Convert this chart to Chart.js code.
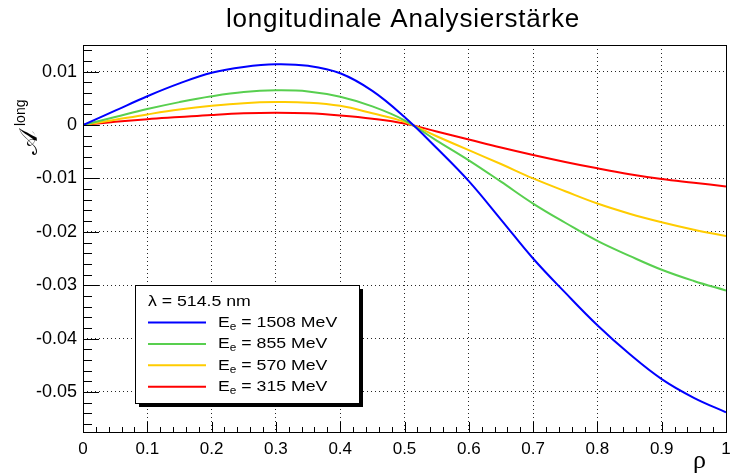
<!DOCTYPE html>
<html>
<head>
<meta charset="utf-8">
<script src="https://cdn.jsdelivr.net/npm/chart.js@4.4.0/dist/chart.umd.min.js"></script>
<style>
  html, body { margin: 0; padding: 0; background: #fff; }
  canvas { display: block; }
</style>
</head>
<body>
<canvas id="chart" width="732" height="476"></canvas>
<script>
/**
 * Longitudinale Analysierstärke A^long(rho) für verschiedene Strahlenergien
 */

const FONT       = "'Liberation Sans', Arial, sans-serif";
const SERIF      = "'Liberation Serif', 'DejaVu Serif', serif";
const GRID_COLOR = 'rgba(0, 0, 0, 0.85)';

const TITLE      = 'longitudinale Analysierstärke';
const WAVELENGTH = '514.5';

const RHO = [0, 0.05, 0.1, 0.15, 0.2, 0.25, 0.3, 0.35, 0.4, 0.45, 0.5,
             0.55, 0.6, 0.65, 0.7, 0.75, 0.8, 0.85, 0.9, 0.95, 1];

const A_1508 = [0, 0.0027, 0.0054, 0.0078, 0.0098, 0.0109, 0.0114, 0.0111, 0.0097, 0.0064, 0.0015,
                -0.0043, -0.0105, -0.0177, -0.0250, -0.0314, -0.0375, -0.0429, -0.0476, -0.0511, -0.0538];
const A_855  = [0, 0.0015, 0.0030, 0.0043, 0.0054, 0.0062, 0.0065, 0.0063, 0.0053, 0.0035, 0.0009,
                -0.0029, -0.0066, -0.0106, -0.0147, -0.0183, -0.0217, -0.0245, -0.0271, -0.0292, -0.0310];
const A_570  = [0, 0.0010, 0.0020, 0.0029, 0.0036, 0.0041, 0.0043, 0.0042, 0.0036, 0.0022, 0.0006,
                -0.0021, -0.0047, -0.0073, -0.0100, -0.0124, -0.0147, -0.0166, -0.0182, -0.0196, -0.0208];
const A_315  = [0, 0.0006, 0.0011, 0.0015, 0.0019, 0.0022, 0.0023, 0.0022, 0.0018, 0.0012, 0.0003,
                -0.0012, -0.0027, -0.0042, -0.0056, -0.0069, -0.0081, -0.0092, -0.0101, -0.0108, -0.0115];

const ENERGIES = [1508, 855, 570, 315];
const SERIES   = [A_1508, A_855, A_570, A_315];
const COLORS   = ['#0000ff', '#58cf4f', '#ffcc00', '#ff0000'];

const X_TICKS = [0, 0.1, 0.2, 0.3, 0.4, 0.5, 0.6, 0.7, 0.8, 0.9, 1];
const Y_TICKS = [0.01, 0, -0.01, -0.02, -0.03, -0.04, -0.05];
const Y_MIN = -0.0575, Y_MAX = 0.015;

/** Text horizontal gestreckt zeichnen, gibt die Breite zurück */
function wideText(ctx, text, x, y, sx) {
  ctx.save();
  ctx.translate(x, y);
  ctx.scale(sx, 1);
  ctx.fillText(text, 0, 0);
  ctx.restore();
  return ctx.measureText(text).width * sx;
}

/** Rahmen + Tickmarks nach innen (ROOT-Stil) */
const frameTicks = {
  id: 'frameTicks',
  afterDatasetsDraw(chart) {
    const { ctx, chartArea: a, scales: { x, y } } = chart;
    ctx.save();
    ctx.strokeStyle = '#000';
    ctx.lineWidth = 1;
    ctx.beginPath();
    // x: Hauptticks alle 0.1, Nebenticks alle 0.02
    for (let i = 0; i <= 50; i++) {
      const px = Math.round(x.getPixelForValue(i * 0.02)) + 0.5;
      const len = i % 5 === 0 ? 10 : 5;
      ctx.moveTo(px, a.bottom);
      ctx.lineTo(px, a.bottom - len);
    }
    // y: Hauptticks alle 0.01, Nebenticks alle 0.002
    for (let i = -28; i <= 7; i++) {
      const py = Math.round(y.getPixelForValue(i * 0.002)) + 0.5;
      const len = i % 5 === 0 ? 16 : 9;
      ctx.moveTo(a.left, py);
      ctx.lineTo(a.left + len, py);
    }
    ctx.stroke();
    ctx.strokeRect(Math.round(a.left) + 0.5, Math.round(a.top) + 0.5,
                   Math.round(a.right - a.left), Math.round(a.bottom - a.top));
    ctx.restore();
  },
};

/** Legende mit Schatten */
const legendBox = {
  id: 'legendBox',
  afterDatasetsDraw(chart) {
    const { ctx } = chart;
    const bx = 135, by = 285, bw = 224, bh = 118;
    const sx = 1.18;
    ctx.save();
    ctx.fillStyle = '#000';
    ctx.fillRect(bx + 4, by + 4, bw, bh);
    ctx.fillStyle = '#fff';
    ctx.fillRect(bx, by, bw, bh);
    ctx.strokeStyle = '#000';
    ctx.lineWidth = 1;
    ctx.strokeRect(bx + 0.5, by + 0.5, bw, bh);

    ctx.fillStyle = '#000';
    ctx.textBaseline = 'alphabetic';
    ctx.font = `15px ${FONT}`;
    wideText(ctx, `λ = ${WAVELENGTH} nm`, 148, 306, sx);

    chart.data.datasets.forEach((ds, i) => {
      const ly = 322.5 + i * 21.4;
      ctx.strokeStyle = ds.borderColor;
      ctx.lineWidth = 2;
      ctx.beginPath();
      ctx.moveTo(148, ly);
      ctx.lineTo(206, ly);
      ctx.stroke();

      const base = ly + 4.5;
      let tx = 218;
      ctx.font = `15px ${FONT}`;
      tx += wideText(ctx, 'E', tx, base, sx);
      ctx.font = `10px ${FONT}`;
      tx += wideText(ctx, 'e', tx, base + 3, sx);
      ctx.font = `15px ${FONT}`;
      wideText(ctx, ` = ${ENERGIES[i]} MeV`, tx, base, sx);
    });
    ctx.restore();
  },
};

/** Titel und Achsenbeschriftungen */
const labels = {
  id: 'labels',
  afterDraw(chart) {
    const { ctx } = chart;
    ctx.save();
    ctx.fillStyle = '#000';
    ctx.textBaseline = 'alphabetic';

    ctx.font = `26px ${FONT}`;
    ctx.textAlign = 'center';
    ctx.letterSpacing = '0.8px';
    ctx.fillText(TITLE, 403, 27);
    ctx.letterSpacing = '0px';

    ctx.textAlign = 'left';
    ctx.font = `26px ${SERIF}`;
    ctx.fillText('ρ', 693, 468);

    // y-Achse: A^long, um 90° gedreht
    ctx.translate(37, 155);
    ctx.rotate(-Math.PI / 2);
    ctx.font = `26px 'DejaVu Sans', ${SERIF}`;
    ctx.fillText('\u{1D49C}', 0, 0);
    const w = ctx.measureText('\u{1D49C}').width;
    ctx.font = `14px ${FONT}`;
    ctx.fillText('long', Math.max(w, 18) + 4, -12);
    ctx.restore();
  },
};

const fmt = v => String(v);

const datasets = SERIES.map((s, i) => ({
  label: `E_e = ${ENERGIES[i]} MeV`,
  data: RHO.map((r, j) => ({ x: r, y: s[j] })),
  borderColor: COLORS[i],
  backgroundColor: 'transparent',
  borderWidth: 2,
  pointRadius: 0,
  tension: 0.4,
}));

const cfg = {
  type: 'line',
  data: { datasets },
  options: {
    responsive: false,
    animation: false,
    layout: { padding: { top: 45, right: 6, left: 0, bottom: 0 } },
    plugins: {
      legend: { display: false },
      tooltip: { enabled: false },
    },
    scales: {
      x: {
        type: 'linear',
        min: 0, max: 1,
        afterBuildTicks: s => { s.ticks = X_TICKS.map(v => ({ value: v })); },
        afterFit: s => { s.height = 44; s.paddingLeft = 0; s.paddingRight = 0; },
        ticks: {
          color: '#000',
          font: { family: FONT, size: 17 },
          padding: 7,
          maxRotation: 0,
          autoSkip: false,
          callback: fmt,
        },
        grid: { color: GRID_COLOR, drawTicks: false },
        border: { display: false, dash: [1, 3] },
      },
      y: {
        type: 'linear',
        min: Y_MIN, max: Y_MAX,
        afterBuildTicks: s => { s.ticks = Y_TICKS.map(v => ({ value: v })); },
        afterFit: s => { s.width = 83; s.paddingTop = 0; s.paddingBottom = 0; },
        ticks: {
          color: '#000',
          font: { family: FONT, size: 18 },
          padding: 6,
          autoSkip: false,
          callback: fmt,
        },
        grid: { color: GRID_COLOR, drawTicks: false },
        border: { display: false, dash: [1, 3] },
      },
    },
  },
  plugins: [frameTicks, legendBox, labels],
};

new Chart(document.getElementById('chart'), cfg);
</script>
</body>
</html>
